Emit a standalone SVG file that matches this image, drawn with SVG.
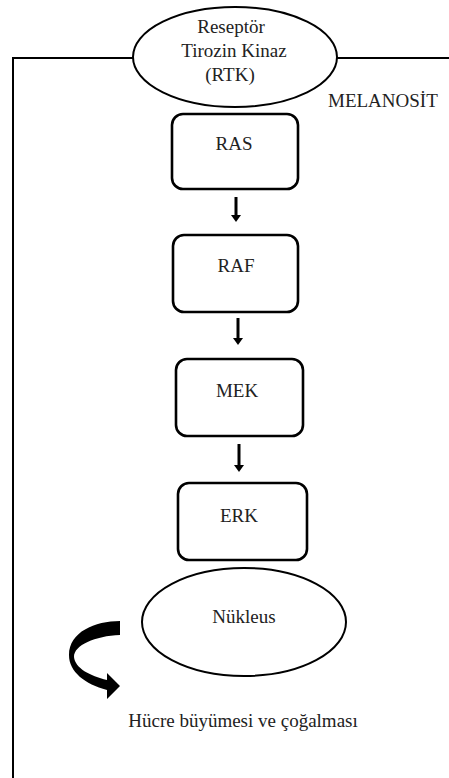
<svg xmlns="http://www.w3.org/2000/svg" width="449" height="778" viewBox="0 0 449 778">
<style>
text{font-family:"Liberation Serif","Times New Roman","DejaVu Serif",serif;font-size:19px;fill:#222;text-anchor:middle}
.box{fill:#fff;stroke:#000;stroke-width:2.6}
.ell{fill:#fff;stroke:#000;stroke-width:2}
.border{fill:none;stroke:#000;stroke-width:2}
.arr{stroke:#000;stroke-width:3;marker-end:url(#ah)}
</style>
<defs>
<marker id="ah" markerUnits="userSpaceOnUse" markerWidth="8" markerHeight="10" viewBox="0 0 8 10" refX="0" refY="5" orient="auto">
<path d="M0,0 L7,5 L0,10 z" fill="#000"/>
</marker>
</defs>
<g id="cell">
<path class="border" d="M449,58 H13 V778"/>
<text x="328" y="107" font-family="Liberation Serif, serif" style="text-anchor:start">MELANOSİT</text>
</g>
<g id="rtk" font-family="Liberation Serif, serif">
<ellipse class="ell" cx="235" cy="57" rx="102" ry="50"/>
<text x="231" y="33">Reseptör</text>
<text x="234" y="57">Tirozin Kinaz</text>
<text x="230" y="81">(RTK)</text>
</g>
<g id="ras">
<rect class="box" x="172" y="114" width="126" height="75" rx="11"/>
<text x="234" y="150">RAS</text>
</g>
<g id="raf">
<rect class="box" x="173" y="235" width="125" height="77" rx="11"/>
<text x="236" y="272">RAF</text>
</g>
<g id="mek">
<rect class="box" x="176" y="359" width="127" height="77" rx="11"/>
<text x="237" y="397">MEK</text>
</g>
<g id="erk">
<rect class="box" x="178" y="483" width="129" height="77" rx="11"/>
<text x="239" y="522">ERK</text>
</g>
<g id="nukleus">
<ellipse class="ell" cx="244" cy="622" rx="102" ry="54"/>
<text x="244" y="623">Nükleus</text>
</g>
<g id="connectors">
<line class="arr" x1="236" y1="197" x2="236" y2="215"/>
<line class="arr" x1="238" y1="318" x2="238" y2="338"/>
<line class="arr" x1="239" y1="444" x2="239" y2="465"/>
<path d="M120,621 C95,621 69,632 69,655 C69,672 85,684 107,690 L107,699 L120,686 L107,673 L107,680 C90,676 75,668 74,657 C74,645 95,636 120,635 Z" fill="#000"/>
</g>
<g id="output">
<text x="243" y="727">Hücre büyümesi ve çoğalması</text>
</g>
</svg>
